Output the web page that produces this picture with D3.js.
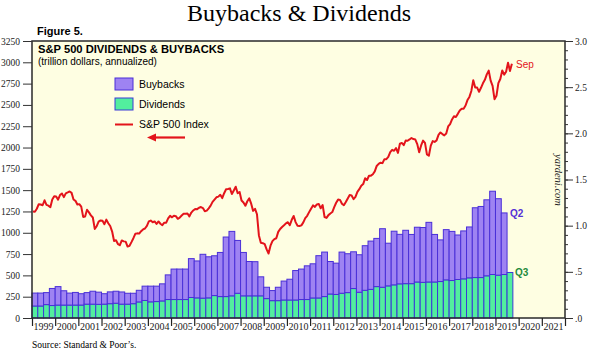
<!DOCTYPE html>
<html><head><meta charset="utf-8">
<script src="https://cdn.jsdelivr.net/npm/d3@7/dist/d3.min.js"></script>
<style>body{margin:0;background:#fff}</style>
</head><body>
<svg id="c" width="591" height="357"></svg>
<script>
// ---------- data ----------
const yearLabels = ["1999","2000","2001","2002","2003","2004","2005","2006","2007","2008","2009","2010","2011","2012","2013","2014","2015","2016","2017","2018","2019","2020","2021"];
const leftTicks = [0,250,500,750,1000,1250,1500,1750,2000,2250,2500,2750,3000,3250];
const rightTicks = [0,0.5,1.0,1.5,2.0,2.5,3.0];
const rightTickLabels = [".0",".5","1.0","1.5","2.0","2.5","3.0"];
const startYear = 1999;
// quarterly, trillion dollars annualized, 1999Q1 .. 2019Q3
const dividends = [
0.130,0.130,0.145,0.135, 0.140,0.140,0.140,0.140, 0.140,0.150,0.150,0.148, 0.150,0.155,0.160,0.150,
0.150,0.155,0.174,0.190, 0.175,0.178,0.185,0.200, 0.200,0.200,0.200,0.222, 0.218,0.215,0.218,0.243,
0.232,0.232,0.240,0.268, 0.240,0.240,0.240,0.240, 0.210,0.188,0.188,0.195, 0.195,0.195,0.200,0.200,
0.217,0.217,0.232,0.260, 0.255,0.268,0.275,0.319, 0.279,0.300,0.310,0.340, 0.333,0.348,0.359,0.370,
0.372,0.372,0.390,0.386, 0.390,0.390,0.395,0.413, 0.406,0.417,0.424,0.435, 0.438,0.438,0.457,0.471,
0.464,0.471,0.493];
const buybacks = [
0.140,0.140,0.130,0.185, 0.200,0.155,0.130,0.137, 0.123,0.125,0.140,0.132, 0.113,0.128,0.130,0.132,
0.118,0.113,0.126,0.155, 0.170,0.167,0.185,0.267, 0.330,0.330,0.330,0.421, 0.400,0.475,0.445,0.431,
0.478,0.645,0.698,0.572, 0.470,0.372,0.370,0.206, 0.123,0.109,0.145,0.205, 0.225,0.319,0.330,0.365,
0.370,0.458,0.482,0.352, 0.339,0.446,0.421,0.398, 0.406,0.483,0.523,0.522, 0.634,0.462,0.581,0.536,
0.578,0.533,0.593,0.594, 0.646,0.515,0.451,0.544, 0.532,0.482,0.519,0.551, 0.756,0.770,0.823,0.902,
0.828,0.667,null];
// S&P 500 index, monthly averages, Jan 1999 .. Sep 2019
const sp500 = [
1249,1247,1282,1335,1332,1323,1381,1327,1318,1300,1391,1429,
1426,1389,1442,1461,1418,1462,1473,1485,1468,1390,1375,1331,
1336,1306,1186,1190,1270,1239,1204,1179,1045,1077,1130,1145,
1140,1101,1154,1112,1079,1014,904,913,868,855,910,899,
896,838,847,890,936,988,993,990,1019,1039,1050,1081,
1133,1143,1124,1133,1103,1133,1106,1089,1118,1118,1169,1199,
1181,1200,1195,1164,1178,1202,1222,1224,1226,1192,1237,1262,
1279,1277,1294,1302,1290,1253,1260,1287,1318,1363,1389,1416,
1424,1445,1407,1464,1511,1514,1521,1455,1497,1540,1463,1479,
1379,1355,1317,1370,1403,1341,1257,1281,1217,969,883,878,
866,805,757,848,902,926,936,1010,1045,1068,1088,1110,
1124,1089,1152,1197,1125,1083,1080,1087,1122,1172,1199,1242,
1283,1321,1304,1332,1338,1287,1325,1185,1174,1207,1226,1243,
1301,1352,1389,1386,1341,1323,1360,1403,1443,1438,1395,1422,
1480,1512,1551,1571,1640,1619,1669,1670,1687,1720,1784,1808,
1822,1817,1864,1864,1890,1947,1973,1962,1993,1937,2045,2054,
2028,2082,2080,2095,2112,2099,2094,2040,1944,2025,2081,2054,
1919,1904,2022,2076,2066,2084,2149,2177,2158,2143,2165,2247,
2275,2330,2367,2359,2395,2434,2454,2456,2493,2557,2594,2664,
2790,2705,2703,2654,2701,2754,2794,2858,2902,2785,2723,2567,
2607,2755,2804,2904,2855,2890,2996,2898,2982];

// ---------- layout ----------
const svg = d3.select("#c");
const L = 32, R = 565, T = 41, B = 318;
const serif = "'Liberation Serif','Times New Roman',serif";
const sans = "'Liberation Sans',Arial,sans-serif";
const purpleFill = "#9e83f2", purpleStroke = "#4a2fd8";
const greenFill = "#52ee9e", greenStroke = "#3a3ad6";
const red = "#e3141b";

const x = d3.scaleLinear().domain([startYear, startYear + yearLabels.length]).range([L, R]);
const yL = d3.scaleLinear().domain([0, 3250]).range([B, T]);
const yR = d3.scaleLinear().domain([0, 3]).range([B, T]);

// title
svg.append("text").attr("x", 299).attr("y", 21).attr("text-anchor","middle")
  .attr("font-family", serif).attr("font-size", 24).text("Buybacks & Dividends");
svg.append("text").attr("x", 37).attr("y", 35).attr("font-family", sans)
  .attr("font-weight","bold").attr("font-size", 11).text("Figure 5.");

// plot background
svg.append("rect").attr("x", L).attr("y", T).attr("width", R-L).attr("height", B-T)
  .attr("fill", "#fefee2");

// bars
const g = svg.append("g");
dividends.forEach((d, i) => {
  const x0 = x(startYear + i/4), x1 = x(startYear + (i+1)/4);
  g.append("rect").attr("x", x0).attr("width", x1-x0)
    .attr("y", yR(d)).attr("height", yR(0)-yR(d))
    .attr("fill", greenFill).attr("stroke", greenStroke).attr("stroke-width", 1);
  const b = buybacks[i];
  if (b != null) {
    g.append("rect").attr("x", x0).attr("width", x1-x0)
      .attr("y", yR(d+b)).attr("height", yR(d)-yR(d+b))
      .attr("fill", purpleFill).attr("stroke", purpleStroke).attr("stroke-width", 1);
  }
});

// S&P line
const line = d3.line()
  .x((v, i) => x(startYear + (i + 0.5)/12))
  .y(v => yL(v));
svg.append("path").datum(sp500).attr("d", line).attr("fill","none")
  .attr("stroke", red).attr("stroke-width", 2).attr("stroke-linejoin","round");

// frame
svg.append("rect").attr("x", L).attr("y", T).attr("width", R-L).attr("height", B-T)
  .attr("fill","none").attr("stroke","#2a2a2a").attr("stroke-width",1.5);

// left axis
const axL = svg.append("g").attr("transform", `translate(${L},0)`)
  .call(d3.axisLeft(yL).tickValues(leftTicks).tickSize(9).tickPadding(3).tickFormat(d3.format("d")));
axL.select(".domain").remove();
axL.selectAll("text").attr("font-family", serif).attr("font-size", 9.5).attr("fill","#222");
axL.selectAll("line").attr("stroke","#333");

// right axis major + minor
const minor = d3.range(0, 31).map(v => v/10);
const axRm = svg.append("g").attr("transform", `translate(${R},0)`)
  .call(d3.axisRight(yR).tickValues(minor).tickSize(3).tickFormat(""));
axRm.select(".domain").remove();
axRm.selectAll("line").attr("stroke","#333");
const axR = svg.append("g").attr("transform", `translate(${R},0)`)
  .call(d3.axisRight(yR).tickValues(rightTicks).tickSize(8).tickPadding(2)
    .tickFormat((d,i) => rightTickLabels[i]));
axR.select(".domain").remove();
axR.selectAll("text").attr("font-family", serif).attr("font-size", 9.5).attr("fill","#222");
axR.selectAll("line").attr("stroke","#333");

// bottom axis
const yearBounds = d3.range(0, yearLabels.length + 1).map(i => startYear + i);
const axB = svg.append("g").attr("transform", `translate(0,${B})`)
  .call(d3.axisBottom(x).tickValues(yearBounds).tickSize(8).tickFormat(""));
axB.select(".domain").remove();
axB.selectAll("line").attr("stroke","#222").attr("stroke-width",1.2);
svg.append("g").selectAll("text").data(yearLabels).join("text")
  .attr("x", (d,i) => x(startYear + i + 0.5)).attr("y", 330)
  .attr("text-anchor","middle").attr("font-family", serif).attr("font-size", 10)
  .attr("fill","#222").text(d => d);

// heading inside plot
svg.append("text").attr("x", 38).attr("y", 53).attr("font-family", sans)
  .attr("font-weight","bold").attr("font-size", 11.2).text("S&P 500 DIVIDENDS & BUYBACKS");
svg.append("text").attr("x", 38).attr("y", 65).attr("font-family", sans)
  .attr("font-size", 10).text("(trillion dollars, annualized)");

// legend
svg.append("rect").attr("x",115).attr("y",78).attr("width",18).attr("height",12)
  .attr("fill",purpleFill).attr("stroke",purpleStroke);
svg.append("text").attr("x",139).attr("y",88).attr("font-family",sans).attr("font-size",10.5).text("Buybacks");
svg.append("rect").attr("x",115).attr("y",98).attr("width",18).attr("height",12)
  .attr("fill",greenFill).attr("stroke",greenStroke);
svg.append("text").attr("x",139).attr("y",108).attr("font-family",sans).attr("font-size",10.5).text("Dividends");
svg.append("line").attr("x1",115).attr("x2",133).attr("y1",124.5).attr("y2",124.5)
  .attr("stroke",red).attr("stroke-width",2);
svg.append("text").attr("x",139).attr("y",128).attr("font-family",sans).attr("font-size",10.5).text("S&P 500 Index");
// arrow
svg.append("line").attr("x1",185).attr("x2",154).attr("y1",137.5).attr("y2",137.5)
  .attr("stroke",red).attr("stroke-width",2.2);
svg.append("path").attr("d","M147,137.5 L156,133.5 L156,141.5 Z").attr("fill",red);

// annotations
svg.append("text").attr("x",516).attr("y",68).attr("font-family",sans).attr("font-size",10)
  .attr("fill",red).text("Sep");
svg.append("text").attr("x",510).attr("y",217).attr("font-family",sans).attr("font-size",10)
  .attr("font-weight","bold").attr("fill","#5530d6").text("Q2");
svg.append("text").attr("x",515).attr("y",276).attr("font-family",sans).attr("font-size",10)
  .attr("font-weight","bold").attr("fill","#1f8a3c").text("Q3");

// watermark
svg.append("text").attr("transform","translate(555,180) rotate(90)").attr("text-anchor","middle")
  .attr("font-family",serif).attr("font-style","italic").attr("font-size",10.5).attr("fill","#222")
  .text("yardeni.com");

// source
svg.append("text").attr("x",32).attr("y",348).attr("font-family",serif).attr("font-size",9.5)
  .text("Source: Standard & Poor\u2019s.");
</script>
</body></html>
